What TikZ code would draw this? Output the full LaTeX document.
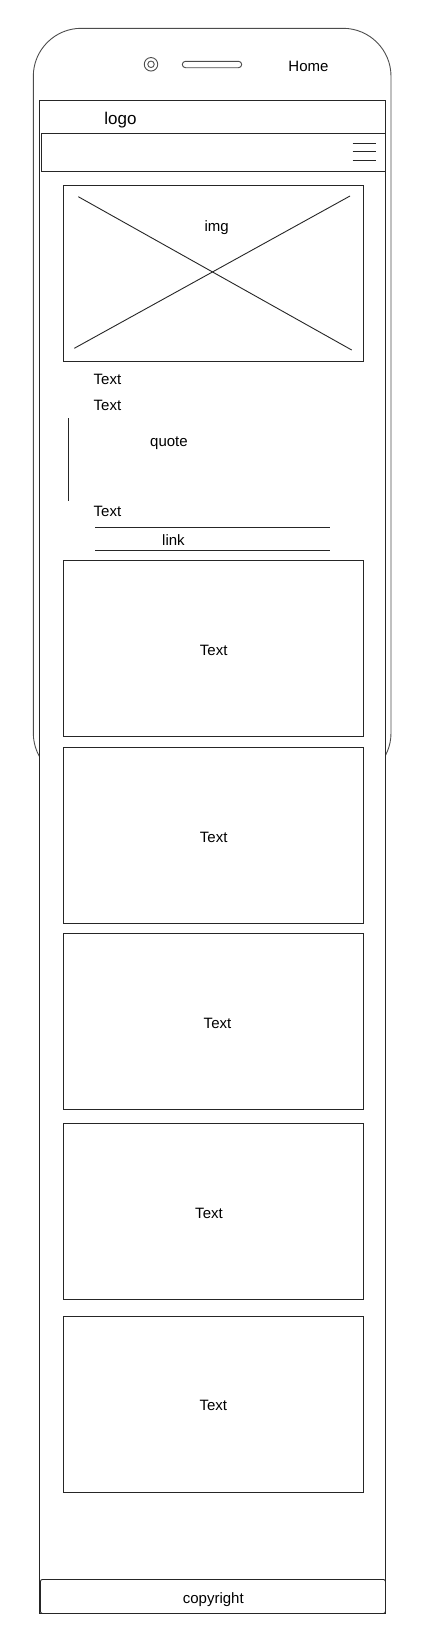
\documentclass[tikz,border=0pt]{standalone}
\usepackage{fontspec}
\setmainfont{Liberation Sans}
\begin{document}
\begin{tikzpicture}[x=1pt,y=-1pt,
  ln/.style={draw=black!85,line width=0.9pt},
  phone/.style={draw=black!70,line width=0.9pt},
  card/.style={ln,rectangle,inner sep=0pt,anchor=north west},
  lbl/.style={font=\fontsize{15}{17}\selectfont,inner sep=0pt,anchor=base},
  lbll/.style={font=\fontsize{15}{17}\selectfont,inner sep=0pt,anchor=base west}]
\useasboundingbox (0,0) rectangle (425,1649);
% phone outline
\draw[phone,rounded corners=48] (33.3,28.3) rectangle (391,781);
% screen
\draw[ln,fill=white] (39.5,100) rectangle (385,1613);
% camera and speaker
\node[phone,circle,minimum size=13.5pt,inner sep=0pt] (cam) at (151,64.3) {};
\node[phone,circle,minimum size=6.5pt,inner sep=0pt] (lens) at (151,64.3) {};
\node[phone,rectangle,rounded corners=3.2pt,minimum width=59.4pt,minimum height=6.4pt,inner sep=0pt] (spk) at (212,64.5) {};
\node[lbl] (home) at (308.5,71.7) {Home};
\node[font=\fontsize{17}{19}\selectfont,inner sep=0pt,anchor=base] (logo) at (120.5,124.3) {logo};
% nav bar
\node[card,minimum width=344pt,minimum height=38pt] (nav) at (41,133) {};
\coordinate (hA1) at (352.7,143.3); \coordinate (hA2) at (375.7,143.3);
\coordinate (hB1) at (352.7,151.7); \coordinate (hB2) at (375.7,151.7);
\coordinate (hC1) at (352.7,160);   \coordinate (hC2) at (375.7,160);
\draw[ln] (hA1) -- (hA2); \draw[ln] (hB1) -- (hB2); \draw[ln] (hC1) -- (hC2);
% image placeholder
\node[card,minimum width=300.5pt,minimum height=175.5pt] (img) at (62.5,185) {};
\coordinate (x1a) at (78.3,196.7); \coordinate (x1b) at (351.7,350);
\coordinate (x2a) at (350,196);    \coordinate (x2b) at (74.3,348.3);
\draw[ln] (x1a) -- (x1b);
\draw[ln] (x2a) -- (x2b);
\node[lbl] (imgt) at (216.7,231.5) {img};
% texts
\node[lbll] (t1) at (93.5,384) {Text};
\node[lbll] (t2) at (93.5,410) {Text};
\coordinate (qa) at (68.3,418.3); \coordinate (qb) at (68.3,500.7);
\draw[ln] (qa) -- (qb);
\node[lbll] (quote) at (150,446.7) {quote};
\node[lbll] (t3) at (93.5,516.7) {Text};
\coordinate (la1) at (95,527.7); \coordinate (la2) at (330,527.7);
\coordinate (lb1) at (95,550.3); \coordinate (lb2) at (330,550.3);
\draw[ln] (la1) -- (la2);
\draw[ln] (lb1) -- (lb2);
\node[lbll] (link) at (162,545) {link};
% content cards
\node[card,minimum width=300.5pt,minimum height=175.7pt] (c1) at (62.5,560) {};
\node[lbl] at (213.7,655) {Text};
\node[card,minimum width=300.5pt,minimum height=176pt] (c2) at (62.5,747) {};
\node[lbl] at (213.7,842) {Text};
\node[card,minimum width=300.5pt,minimum height=176pt] (c3) at (62.5,933.3) {};
\node[lbl] at (217.5,1028.3) {Text};
\node[card,minimum width=300.5pt,minimum height=176pt] (c4) at (62.5,1123.3) {};
\node[lbl] at (209,1218.3) {Text};
\node[card,minimum width=300.5pt,minimum height=176pt] (c5) at (62.5,1316) {};
\node[lbl] at (213.3,1410.7) {Text};
% footer
\node[card,rounded corners=2pt,minimum width=345pt,minimum height=34pt] (foot) at (40,1579) {};
\node[lbl] (copy) at (213.3,1603) {copyright};
\end{tikzpicture}
\end{document}
